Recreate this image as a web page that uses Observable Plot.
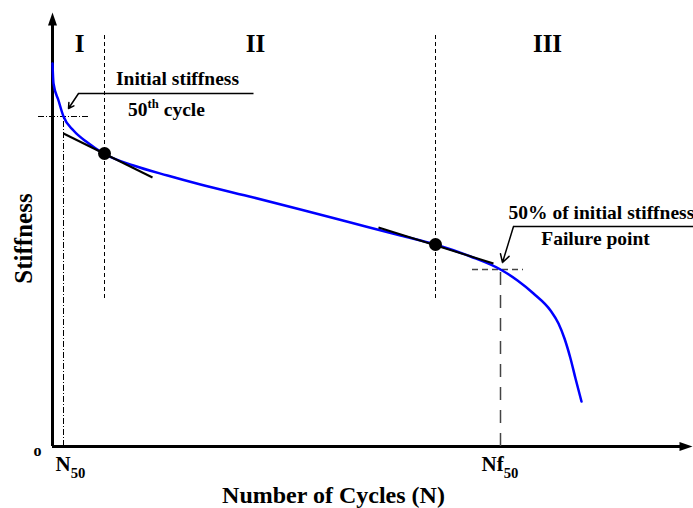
<!DOCTYPE html>
<html>
<head>
<meta charset="utf-8">
<script src="https://cdn.jsdelivr.net/npm/d3@7"></script>
<script src="https://cdn.jsdelivr.net/npm/@observablehq/plot@0.6"></script>
<style>
  html, body { margin: 0; padding: 0; background: #fff; overflow: hidden; }
  #chart svg { overflow: hidden; display: block; }
  #chart svg text, #chart svg tspan { font-family: "Liberation Serif", "Times New Roman", serif !important; }
</style>
</head>
<body>
<div id="chart"></div>
<script>
// ---- Data (schematic units: x = cycles, y = stiffness) ----
const cycles    = [0, 1, 6, 11, 21, 35, 51, 81, 115, 148, 201, 248, 298, 348, 383, 418, 448, 465, 481, 498, 506, 512, 518, 523, 529];
const stiffness = [383, 363, 346, 330, 316, 304, 293, 281, 271, 262, 249, 237, 224, 211, 202, 190, 177, 166, 153, 136, 123, 108, 88, 68, 45];

// tangents at the transition points
const tangentX1 = [11, 326];
const tangentY1 = [313, 219];
const tangentX2 = [100, 441];
const tangentY2 = [269, 183];

// phase transition points
const transitionX = [52, 383];
const transitionY = [293, 202];
const boundaryTop = 412;
const boundaryBottom = 148;

// phase labels
const phaseLabels = ["I", "II", "III"];
const phaseX = [27, 203, 495];
const phaseY = 403;

// reference markers
const n50 = 11, initialStiffness = 330;
const nf50 = 448, failureStiffness = 177;

// centred annotations
const annText = ["Initial stiffness", "50^{th} cycle", "Failure point"];
const annX = [125, 114, 543];
const annY = [368, 337, 208];
// left-aligned annotation
const annLeftText = ["50% of initial stiffness"];
const annLeftX = [456];
const annLeftY = [234];

// leader lines
const leaderY = [353, 220];
const leaderXStart = [26, 461];
const leaderXEnd = [201, 641];
const leaderTipX = [16, 450];
const leaderTipY = [338, 184];

// axis tick labels
const tickText = ["N_{50}", "Nf_{50}"];
const tickX = [3, 429];

const curve = cycles.map((c, i) => ({c, s: stiffness[i]}));
const tangents = tangentX1.map((x1, i) => ({x1, y1: tangentY1[i], x2: tangentX2[i], y2: tangentY2[i]}));
const transitions = transitionX.map((x, i) => ({x, y: transitionY[i]}));
const phases = phaseLabels.map((t, i) => ({t, x: phaseX[i]}));
const anns = annText.map((t, i) => ({t, x: annX[i], y: annY[i]}));
const annsLeft = annLeftText.map((t, i) => ({t, x: annLeftX[i], y: annLeftY[i]}));
const leaders = leaderY.map((y, i) => ({y, xa: leaderXStart[i], xb: leaderXEnd[i], tx: leaderTipX[i], ty: leaderTipY[i]}));
const ticks = tickText.map((t, i) => ({t, x: tickX[i]}));

const font = "Liberation Serif, Times New Roman, serif";

// filled arrowhead symbol: tip at origin, pointing up
const arrowHead = {
  draw(ctx) {
    ctx.moveTo(0, 0);
    ctx.lineTo(4.5, 13);
    ctx.lineTo(-4.5, 13);
    ctx.closePath();
  }
};

const txt = {fontFamily: font, fontWeight: "bold", fill: "black"};

const plot = Plot.plot({
  width: 693,
  height: 508,
  margin: 0,
  style: {background: "#fff", fontFamily: font},
  x: {domain: [0, 640], range: [52, 692], axis: null},
  y: {domain: [0, 434], range: [446, 12], axis: null},
  marks: [
    // axes
    Plot.ruleX([0], {y1: 0, y2: 424, stroke: "black", strokeWidth: 3}),
    Plot.ruleY([0], {x1: 0, x2: 630, stroke: "black", strokeWidth: 3}),
    Plot.dot([{x: 0, y: 434}], {x: "x", y: "y", symbol: arrowHead, fill: "black", stroke: "none"}),
    Plot.dot([{x: 640, y: 0}], {x: "x", y: "y", symbol: arrowHead, fill: "black", stroke: "none", rotate: 90}),

    // N50 reference (dash-dot)
    Plot.ruleX([n50], {y1: 0, y2: initialStiffness, stroke: "black", strokeWidth: 1, strokeDasharray: "6,2,1,2"}),
    Plot.ruleY([initialStiffness], {x1: -14, x2: 38, stroke: "black", strokeWidth: 1, strokeDasharray: "6,2,1,2"}),

    // phase boundaries
    Plot.ruleX(transitionX, {y1: boundaryBottom, y2: boundaryTop, stroke: "black", strokeWidth: 1, strokeDasharray: "4,3"}),

    // failure point reference
    Plot.ruleY([failureStiffness], {x1: 420, x2: 471, stroke: "#444", strokeWidth: 1.5, strokeDasharray: "6,4"}),
    Plot.ruleX([nf50], {y1: 0, y2: failureStiffness, stroke: "#444", strokeWidth: 1.5, strokeDasharray: "13,10"}),

    // stiffness curve
    Plot.line(curve, {x: "c", y: "s", stroke: "#0000ff", strokeWidth: 2.5, curve: "monotone-x"}),

    // tangents
    Plot.link(tangents, {x1: "x1", y1: "y1", x2: "x2", y2: "y2", stroke: "black", strokeWidth: 2}),
    Plot.dot(transitions, {x: "x", y: "y", r: 6.5, fill: "black"}),

    // leaders
    Plot.link(leaders, {x1: "xa", x2: "xb", y1: "y", y2: "y", stroke: "black", strokeWidth: 1.5}),
    Plot.arrow(leaders, {x1: "xa", y1: "y", x2: "tx", y2: "ty", stroke: "black", strokeWidth: 1.5, headLength: 9}),

    // phase labels
    Plot.text(phases, {x: "x", y: phaseY, text: "t", fontSize: 25, ...txt}),

    // annotations
    Plot.text(anns, {x: "x", y: "y", text: "t", fontSize: 19.5, ...txt}),
    Plot.text(annsLeft, {x: "x", y: "y", text: "t", textAnchor: "start", fontSize: 19.5, ...txt}),

    // ticks
    Plot.text(ticks, {x: "x", y: -18, text: "t", textAnchor: "start", fontSize: 21, ...txt}),
    Plot.text(["o"], {x: -15, y: -4, text: d => d, fontSize: 16, ...txt}),

    // axis titles
    Plot.text(["Number of Cycles (N)"], {x: 281, y: -49, text: d => d, fontSize: 24, ...txt}),
    Plot.text(["Stiffness"], {x: -29, y: 208, text: d => d, rotate: -90, fontSize: 25, ...txt})
  ]
});

document.getElementById("chart").appendChild(plot);

// render _{..} and ^{..} as sub/superscript tspans
d3.select(plot).selectAll("text").each(function() {
  const s = this.textContent;
  if (!/[_^]\{/.test(s)) return;
  const fs = parseFloat(getComputedStyle(this).fontSize) || 16;
  const sel = d3.select(this);
  sel.text(null);
  const re = /([_^])\{([^}]*)\}/g;
  let last = 0, m, off = 0;
  const add = (str, shift, size) => {
    const t = sel.append("tspan").text(str);
    if (shift !== off) t.attr("dy", shift - off);
    if (size) t.attr("font-size", size);
    off = shift;
  };
  while ((m = re.exec(s))) {
    if (m.index > last) add(s.slice(last, m.index), 0, null);
    if (m[1] === "_") add(m[2], fs * 0.3, fs * 0.7);
    else add(m[2], -fs * 0.4, fs * 0.65);
    last = re.lastIndex;
  }
  if (last < s.length) add(s.slice(last), 0, null);
});
</script>
</body>
</html>
